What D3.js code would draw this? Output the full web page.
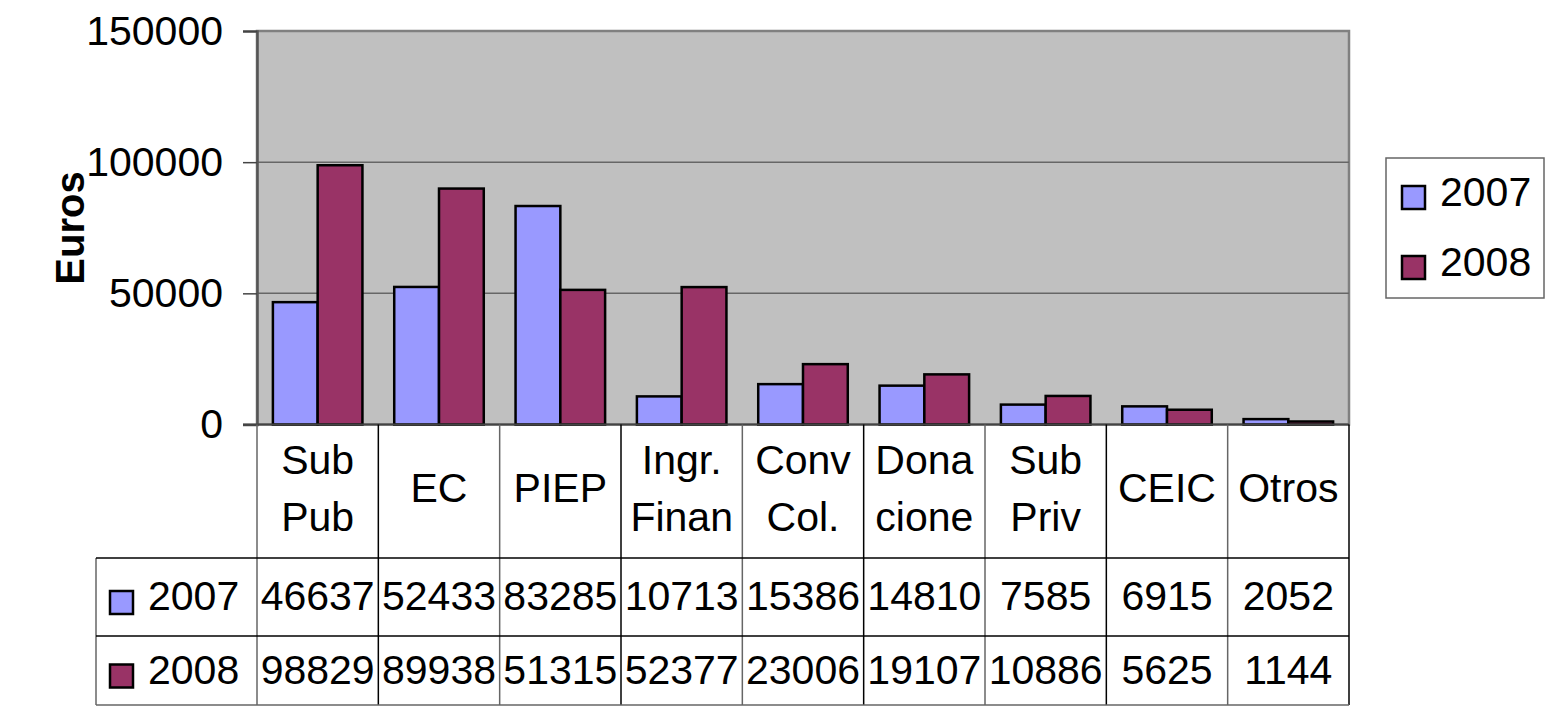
<!DOCTYPE html>
<html>
<head>
<meta charset="utf-8">
<script src="https://cdn.jsdelivr.net/npm/d3@7"></script>
<style>
  html, body { margin: 0; padding: 0; background: #ffffff; }
  svg { display: block; font-family: "Liberation Sans", Arial, sans-serif; }
</style>
</head>
<body>
<svg id="chart" width="1550" height="707"></svg>
<script>
const categories = ["Sub Pub", "EC", "PIEP", "Ingr. Finan", "Conv Col.", "Dona cione", "Sub Priv", "CEIC", "Otros"];
const seriesNames = ["2007", "2008"];
const values2007 = [46637, 52433, 83285, 10713, 15386, 14810, 7585, 6915, 2052];
const values2008 = [98829, 89938, 51315, 52377, 23006, 19107, 10886, 5625, 1144];
const yTicks = [0, 50000, 100000, 150000];
const yTitle = "Euros";

const colors = ["#9999FF", "#993366"];
const seriesValues = [values2007, values2008];

const svg = d3.select("#chart");
const plot = { left: 257, right: 1349, top: 31, bottom: 424.5 };
const tableRows = { headerBottom: 558, row1Bottom: 636, row2Bottom: 705, left: 96 };
const fontSize = 41;

const x = d3.scaleBand().domain(categories).range([plot.left, plot.right]).paddingInner(0).paddingOuter(0);
const xs = d3.scaleBand().domain(seriesNames).range([0, x.bandwidth()]).paddingInner(0).paddingOuter(0.355);
const y = d3.scaleLinear().domain([0, 150000]).range([plot.bottom, plot.top]);

// plot background
svg.append("rect")
  .attr("x", plot.left).attr("y", plot.top)
  .attr("width", plot.right - plot.left).attr("height", plot.bottom - plot.top)
  .attr("fill", "#C0C0C0")
  .attr("stroke", "#808080").attr("stroke-width", 2.5);

// gridlines
svg.append("g").selectAll("line")
  .data(yTicks.filter(d => d > 0 && d < 150000))
  .join("line")
  .attr("x1", plot.left).attr("x2", plot.right)
  .attr("y1", d => y(d)).attr("y2", d => y(d))
  .attr("stroke", "#666666").attr("stroke-width", 1.5);

// y axis
const yAxis = d3.axisLeft(y).tickValues(yTicks).tickSize(14).tickPadding(20).tickFormat(d3.format("d"));
const gy = svg.append("g").attr("transform", `translate(${plot.left},0)`).call(yAxis);
gy.select(".domain").attr("stroke", "#555555").attr("stroke-width", 2.5);
gy.selectAll(".tick line").attr("stroke", "#444444").attr("stroke-width", 1.5);
gy.selectAll(".tick text").attr("font-size", fontSize).attr("fill", "#000").attr("font-family", "'Liberation Sans', Arial, sans-serif");

// bars
const groups = svg.append("g").selectAll("g")
  .data(categories)
  .join("g")
  .attr("transform", d => `translate(${x(d)},0)`);

groups.selectAll("rect")
  .data((d, i) => seriesNames.map((s, j) => ({ s, v: seriesValues[j][i], j })))
  .join("rect")
  .attr("x", d => xs(d.s))
  .attr("y", d => y(d.v))
  .attr("width", xs.bandwidth())
  .attr("height", d => y(0) - y(d.v))
  .attr("fill", d => colors[d.j])
  .attr("stroke", "#000").attr("stroke-width", 2.5);

// x axis baseline
svg.append("line")
  .attr("x1", plot.left - 14).attr("x2", plot.right)
  .attr("y1", plot.bottom).attr("y2", plot.bottom)
  .attr("stroke", "#444444").attr("stroke-width", 2);

// data table
const tg = svg.append("g");
const bounds = categories.map(c => x(c)).concat([plot.right]);
tg.selectAll("line.v")
  .data(bounds)
  .join("line")
  .attr("class", "v")
  .attr("x1", d => d).attr("x2", d => d)
  .attr("y1", plot.bottom).attr("y2", tableRows.row2Bottom)
  .attr("stroke", (d, i) => i % 2 === 0 ? "#666666" : "#000000")
  .attr("stroke-width", 1.5);
tg.append("line")
  .attr("x1", tableRows.left).attr("x2", tableRows.left)
  .attr("y1", tableRows.headerBottom).attr("y2", tableRows.row2Bottom)
  .attr("stroke", "#666666").attr("stroke-width", 1.5);
tg.selectAll("line.h")
  .data([tableRows.headerBottom, tableRows.row1Bottom, tableRows.row2Bottom])
  .join("line")
  .attr("class", "h")
  .attr("x1", tableRows.left).attr("x2", plot.right)
  .attr("y1", d => d).attr("y2", d => d)
  .attr("stroke", (d, i) => i === 2 ? "#666666" : "#000000")
  .attr("stroke-width", 1.5);

// header labels
const headerMid = (plot.bottom + tableRows.headerBottom) / 2;
const lineH = 57;
tg.selectAll("text.cat")
  .data(categories)
  .join("text")
  .attr("class", "cat")
  .attr("text-anchor", "middle")
  .attr("font-size", fontSize)
  .attr("fill", "#000")
  .each(function (d) {
    const lines = d.split(" ");
    const t = d3.select(this);
    const cx = x(d) + x.bandwidth() / 2;
    const first = headerMid + 11 - (lines.length - 1) * lineH / 2;
    lines.forEach((ln, k) => {
      t.append("tspan").attr("x", cx).attr("y", first + k * lineH).text(ln);
    });
  });

// value rows
const rowMids = [(tableRows.headerBottom + tableRows.row1Bottom) / 2, (tableRows.row1Bottom + tableRows.row2Bottom) / 2];
seriesNames.forEach((s, j) => {
  const cy = rowMids[j];
  tg.append("g").selectAll("text")
    .data(categories)
    .join("text")
    .attr("x", d => x(d) + x.bandwidth() / 2)
    .attr("y", cy + 13)
    .attr("text-anchor", "middle")
    .attr("font-size", fontSize)
    .attr("fill", "#000")
    .attr("textLength", (d, i) => String(seriesValues[j][i]).length >= 5 ? 114 : null)
    .attr("lengthAdjust", "spacingAndGlyphs")
    .text((d, i) => seriesValues[j][i]);
  tg.append("rect")
    .attr("x", 110).attr("y", cy - 6)
    .attr("width", 23).attr("height", 23)
    .attr("fill", colors[j]).attr("stroke", "#000").attr("stroke-width", 2.5);
  tg.append("text")
    .attr("x", 148).attr("y", cy + 13)
    .attr("font-size", fontSize).attr("fill", "#000")
    .text(s);
});

// legend
const lg = svg.append("g");
lg.append("rect")
  .attr("x", 1386).attr("y", 158).attr("width", 158).attr("height", 140)
  .attr("fill", "#fff").attr("stroke", "#666666").attr("stroke-width", 1.5);
const legendY = d3.scalePoint().domain(seriesNames).range([197, 267]);
seriesNames.forEach((s, j) => {
  lg.append("rect")
    .attr("x", 1402).attr("y", legendY(s) - 11)
    .attr("width", 23).attr("height", 23)
    .attr("fill", colors[j]).attr("stroke", "#000").attr("stroke-width", 2.5);
  lg.append("text")
    .attr("x", 1440).attr("y", legendY(s) + 9)
    .attr("font-size", fontSize).attr("fill", "#000")
    .text(s);
});

// y title
svg.append("text")
  .attr("transform", `translate(70,228) rotate(-90)`)
  .attr("text-anchor", "middle")
  .attr("dy", "0.35em")
  .attr("font-size", 40)
  .attr("font-weight", "bold")
  .attr("fill", "#000")
  .text(yTitle);
</script>
</body>
</html>
